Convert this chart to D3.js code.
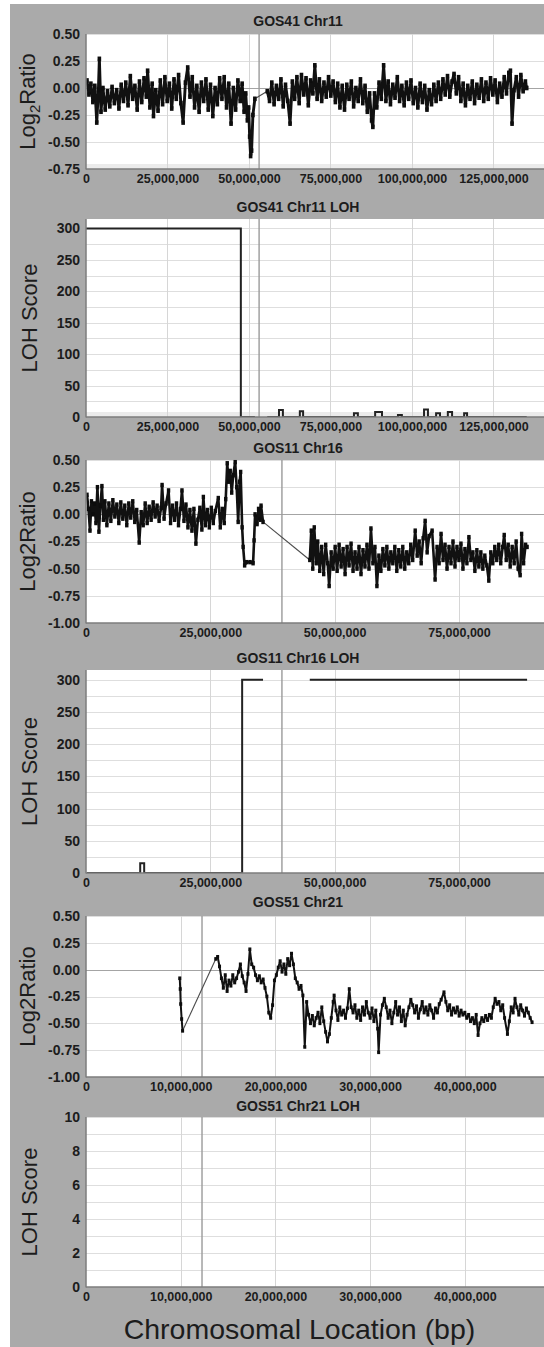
<!DOCTYPE html>
<html>
<head>
<meta charset="utf-8">
<script src="https://cdn.jsdelivr.net/npm/d3@7"></script>
<style>
  html, body { margin: 0; padding: 0; background: #ffffff; }
  svg { display: block; font-family: "Liberation Sans", Arial, Helvetica, sans-serif; }
</style>
</head>
<body>
<svg id="fig" width="544" height="1347"></svg>
<script>
// ---- Data -------------------------------------------------------------
// Log2 ratio probes: [position in Mb, log2 ratio]
const gos41Chr11Log2 = [
  [0.3,0.07],[0.9,-0.06],[1.5,0.04],[2.1,-0.13],[2.7,0.02],[3.3,-0.32],[3.8,-0.02],[4.1,0.27],[4.6,-0.22],[5.2,0.0],
  [5.9,-0.2],[6.6,-0.03],[7.3,-0.17],[8.0,0.01],[8.7,-0.14],[9.4,-0.02],[10.1,-0.19],[10.8,0.03],[11.5,-0.12],[12.2,0.05],
  [12.9,-0.16],[13.6,0.11],[14.3,-0.1],[15.0,0.02],[15.7,-0.2],[16.4,0.06],[17.1,-0.13],[17.8,0.09],[18.5,-0.08],[18.9,0.16],
  [19.6,-0.18],[20.3,0.04],[20.7,-0.26],[21.4,-0.02],[22.1,-0.21],[22.8,0.07],[23.5,-0.15],[24.2,0.1],[24.9,-0.12],[25.6,0.04],
  [26.3,-0.19],[27.0,0.08],[27.7,-0.1],[28.4,0.12],[29.1,-0.14],[29.8,-0.32],[30.5,0.05],[31.2,0.19],[31.9,-0.08],[32.6,0.1],
  [33.3,-0.18],[34.0,0.02],[34.7,-0.22],[35.4,0.05],[36.1,-0.12],[36.8,0.08],[37.5,-0.2],[38.2,0.03],[38.9,-0.26],[39.6,0.0],
  [40.3,-0.15],[41.0,0.09],[41.7,-0.1],[42.4,0.1],[43.1,-0.18],[43.8,0.04],[44.5,-0.33],[45.2,0.0],[45.9,-0.2],[46.6,0.07],
  [47.3,-0.12],[47.9,0.04],[48.5,-0.22],[49.0,-0.05],[49.5,-0.3],[49.9,-0.18],[50.2,-0.45],[50.5,-0.63],[50.8,-0.58],[51.2,-0.25],
  [51.8,-0.1],
  [55.6,-0.03],[56.3,-0.12],[57.0,0.05],[57.7,-0.15],[58.4,0.02],[59.1,-0.1],[59.8,0.08],[60.5,-0.17],[61.2,0.03],[61.9,-0.12],
  [62.6,-0.33],[63.3,0.06],[64.0,-0.1],[64.7,0.1],[65.4,-0.14],[66.1,0.12],[66.8,-0.06],[67.5,0.09],[68.2,-0.16],[68.9,0.07],
  [69.6,-0.05],[70.2,0.21],[70.9,-0.1],[71.6,0.08],[72.3,-0.12],[73.0,0.05],[73.7,-0.08],[74.4,0.1],[75.1,-0.07],[75.8,0.06],
  [76.5,-0.13],[77.2,0.04],[77.9,-0.18],[78.6,0.02],[79.3,-0.2],[80.0,0.03],[80.7,-0.1],[81.4,0.06],[82.1,-0.17],[82.8,0.0],
  [83.5,-0.12],[84.2,0.08],[84.9,-0.14],[85.6,0.02],[86.3,-0.22],[87.0,-0.05],[87.6,-0.3],[88.0,-0.36],[88.5,-0.05],[89.2,-0.18],
  [89.9,0.05],[90.6,-0.1],[91.3,0.21],[92.0,-0.12],[92.7,0.06],[93.4,-0.15],[94.1,0.03],[94.8,-0.09],[95.5,0.1],[96.2,-0.12],
  [96.9,0.02],[97.6,-0.16],[98.3,0.05],[99.0,-0.1],[99.7,0.07],[100.4,-0.14],[101.1,0.0],[101.8,-0.18],[102.5,0.04],[103.2,-0.13],
  [103.9,0.02],[104.6,-0.2],[105.3,-0.02],[106.0,-0.15],[106.7,0.03],[107.4,-0.12],[108.1,0.05],[108.8,-0.1],[109.5,0.08],[110.2,-0.06],
  [110.9,0.11],[111.6,-0.08],[112.3,0.06],[112.9,0.13],[113.6,-0.05],[114.3,0.1],[115.0,-0.12],[115.7,0.04],[116.4,-0.16],[117.1,0.02],
  [117.8,-0.1],[118.5,0.06],[119.2,-0.14],[119.9,0.03],[120.6,-0.09],[121.3,0.08],[122.0,-0.12],[122.7,0.05],[123.4,-0.1],[124.1,0.09],
  [124.8,-0.06],[125.5,0.07],[126.2,-0.13],[126.9,0.04],[127.6,-0.08],[128.3,0.1],[129.0,-0.05],[129.7,0.14],[130.2,0.16],[130.7,-0.33],
  [131.3,-0.02],[132.0,0.1],[132.7,-0.08],[133.4,0.12],[134.1,-0.03],[134.8,0.06],[135.2,0.0]
];

const gos11Chr16Log2 = [
  [0.2,0.18],[0.5,0.05],[0.8,-0.15],[1.1,0.12],[1.4,0.0],[1.7,0.1],[2.0,-0.08],[2.3,0.25],[2.6,-0.16],[2.9,0.08],
  [3.2,0.26],[3.5,-0.05],[3.8,0.12],[4.2,-0.1],[4.6,0.1],[5.0,-0.06],[5.4,0.13],[5.8,-0.02],[6.2,0.09],[6.6,-0.08],
  [7.0,0.11],[7.4,-0.04],[7.8,0.08],[8.2,-0.1],[8.6,0.1],[9.0,-0.03],[9.4,0.12],[9.8,-0.07],[10.2,0.04],[10.7,-0.26],
  [11.1,0.02],[11.5,-0.1],[11.9,0.1],[12.3,-0.08],[12.7,0.07],[13.1,-0.05],[13.5,0.11],[13.9,-0.02],[14.3,0.08],[14.7,-0.06],
  [15.1,0.06],[15.3,0.27],[15.7,-0.04],[16.1,0.1],[16.6,0.22],[17.0,-0.08],[17.4,0.08],[17.8,-0.05],[18.2,0.1],[18.6,-0.1],
  [19.0,0.05],[19.3,0.22],[19.7,-0.06],[20.1,0.09],[20.5,-0.12],[20.9,0.04],[21.3,-0.15],[21.7,0.05],[22.1,-0.27],[22.5,-0.05],
  [22.9,0.06],[23.3,-0.14],[23.6,0.16],[24.0,-0.1],[24.4,0.04],[24.8,-0.12],[25.2,0.06],[25.6,-0.08],[26.0,0.03],[26.6,0.15],
  [27.0,-0.12],[27.4,0.05],[27.8,-0.08],[28.1,0.14],[28.4,0.47],[28.7,0.3],[29.0,0.4],[29.3,0.2],[29.6,0.36],[30.0,0.48],
  [30.3,0.25],[30.6,-0.07],[30.9,0.3],[31.1,0.39],[31.4,-0.12],[31.6,-0.3],[31.9,-0.47],[32.3,-0.44],[33.0,-0.44],[33.6,-0.45],
  [33.8,-0.24],[34.0,0.0],[34.4,-0.09],[34.7,0.05],[35.0,-0.05],[35.2,0.08],[35.6,-0.07],
  [45.0,-0.42],[45.3,-0.15],[45.6,-0.5],[45.9,-0.12],[46.3,-0.45],[46.6,-0.25],[47.0,-0.52],[47.4,-0.3],[47.8,-0.55],[48.2,-0.28],
  [48.6,-0.45],[48.9,-0.66],[49.3,-0.35],[49.7,-0.5],[50.1,-0.3],[50.5,-0.52],[50.9,-0.28],[51.3,-0.48],[51.7,-0.32],[52.1,-0.55],
  [52.5,-0.3],[52.9,-0.47],[53.3,-0.27],[53.7,-0.52],[54.1,-0.35],[54.5,-0.5],[54.9,-0.3],[55.3,-0.55],[55.7,-0.33],[56.1,-0.48],
  [56.5,-0.28],[56.9,-0.5],[57.3,-0.13],[57.7,-0.45],[58.1,-0.3],[58.5,-0.66],[58.9,-0.38],[59.3,-0.52],[59.7,-0.32],[60.1,-0.47],
  [60.5,-0.3],[60.9,-0.5],[61.3,-0.35],[61.7,-0.45],[62.1,-0.3],[62.5,-0.52],[62.9,-0.33],[63.3,-0.48],[63.7,-0.3],[64.1,-0.5],
  [64.5,-0.35],[64.9,-0.45],[65.3,-0.28],[65.7,-0.42],[66.2,-0.15],[66.6,-0.38],[67.0,-0.25],[67.4,-0.45],[67.8,-0.22],[68.2,-0.06],
  [68.6,-0.35],[69.0,-0.2],[69.6,-0.15],[70.2,-0.6],[70.6,-0.3],[71.0,-0.45],[71.4,-0.18],[71.8,-0.42],[72.2,-0.28],[72.6,-0.5],
  [73.0,-0.3],[73.4,-0.45],[73.8,-0.25],[74.2,-0.48],[74.6,-0.3],[75.0,-0.42],[75.4,-0.27],[75.8,-0.5],[76.2,-0.32],[76.6,-0.45],
  [77.0,-0.21],[77.4,-0.42],[77.8,-0.35],[78.2,-0.52],[78.6,-0.33],[79.0,-0.48],[79.4,-0.35],[79.8,-0.5],[80.2,-0.38],[80.6,-0.47],
  [81.0,-0.61],[81.4,-0.35],[81.8,-0.45],[82.2,-0.3],[82.6,-0.42],[83.0,-0.28],[83.4,-0.45],[83.8,-0.3],[84.1,-0.19],[84.5,-0.42],
  [84.9,-0.28],[85.3,-0.48],[85.7,-0.3],[86.1,-0.45],[86.5,-0.25],[86.9,-0.5],[87.3,-0.56],[87.6,-0.18],[88.0,-0.45],[88.4,-0.28],
  [88.7,-0.3]
];

const gos51Chr21Log2 = [
  [9.9,-0.08],[9.95,-0.18],[10.0,-0.32],[10.1,-0.46],[10.2,-0.57],
  [13.7,0.1],[13.9,0.12],[14.1,0.03],[14.3,-0.08],[14.5,-0.17],[14.7,-0.05],[14.9,-0.2],[15.1,-0.1],[15.3,-0.15],[15.5,-0.05],
  [15.7,-0.12],[15.9,-0.08],[16.1,-0.02],[16.3,0.05],[16.5,-0.06],[16.7,-0.12],[16.9,-0.2],[17.1,-0.04],[17.3,0.19],[17.5,0.05],
  [17.7,0.02],[17.9,-0.05],[18.1,-0.1],[18.3,-0.06],[18.5,-0.12],[18.7,-0.09],[18.9,-0.17],[19.1,-0.25],[19.3,-0.4],[19.5,-0.45],
  [19.7,-0.33],[19.9,-0.1],[20.1,-0.05],[20.3,0.02],[20.5,0.08],[20.7,-0.02],[20.9,0.05],[21.1,-0.04],[21.3,0.1],[21.5,0.04],
  [21.7,0.15],[21.9,0.05],[22.1,-0.08],[22.3,-0.12],[22.5,-0.18],[22.7,-0.15],[22.9,-0.24],[23.1,-0.72],[23.3,-0.3],[23.5,-0.42],
  [23.7,-0.5],[23.9,-0.43],[24.1,-0.52],[24.3,-0.45],[24.5,-0.4],[24.7,-0.5],[24.9,-0.35],[25.1,-0.48],[25.3,-0.58],[25.5,-0.67],
  [25.7,-0.6],[25.9,-0.45],[26.1,-0.3],[26.2,-0.24],[26.4,-0.38],[26.6,-0.47],[26.8,-0.35],[27.0,-0.42],[27.2,-0.38],[27.4,-0.45],
  [27.6,-0.36],[27.8,-0.18],[28.0,-0.35],[28.2,-0.4],[28.4,-0.33],[28.6,-0.45],[28.8,-0.38],[29.0,-0.47],[29.2,-0.35],[29.4,-0.42],
  [29.6,-0.3],[29.8,-0.4],[30.0,-0.45],[30.2,-0.36],[30.4,-0.48],[30.6,-0.38],[30.8,-0.55],[30.9,-0.77],[31.1,-0.42],[31.3,-0.33],
  [31.5,-0.27],[31.7,-0.35],[31.9,-0.45],[32.1,-0.38],[32.3,-0.5],[32.5,-0.4],[32.7,-0.3],[32.9,-0.42],[33.1,-0.35],[33.3,-0.48],
  [33.5,-0.38],[33.7,-0.52],[33.9,-0.42],[34.1,-0.35],[34.3,-0.28],[34.5,-0.33],[34.7,-0.4],[34.9,-0.34],[35.1,-0.45],[35.3,-0.37],
  [35.5,-0.3],[35.7,-0.4],[35.9,-0.35],[36.1,-0.42],[36.3,-0.33],[36.5,-0.38],[36.7,-0.45],[36.9,-0.36],[37.1,-0.4],[37.3,-0.32],
  [37.5,-0.28],[37.8,-0.21],[38.0,-0.3],[38.2,-0.38],[38.4,-0.33],[38.6,-0.42],[38.8,-0.36],[39.0,-0.4],[39.2,-0.35],[39.4,-0.43],
  [39.6,-0.38],[39.8,-0.42],[40.0,-0.4],[40.2,-0.45],[40.4,-0.42],[40.6,-0.48],[40.8,-0.45],[41.0,-0.5],[41.2,-0.42],[41.4,-0.61],
  [41.6,-0.5],[41.8,-0.45],[42.0,-0.48],[42.2,-0.43],[42.4,-0.47],[42.6,-0.42],[42.8,-0.45],[43.0,-0.35],[43.2,-0.27],[43.4,-0.32],
  [43.6,-0.3],[43.8,-0.38],[44.0,-0.33],[44.2,-0.45],[44.5,-0.6],[44.7,-0.48],[44.9,-0.35],[45.1,-0.4],[45.3,-0.27],[45.5,-0.35],
  [45.7,-0.42],[45.9,-0.33],[46.1,-0.38],[46.3,-0.43],[46.5,-0.36],[46.7,-0.4],[46.9,-0.45],[47.1,-0.49]
];

// LOH score traces: [position in Mb, score]; null marks a gap with no probes
const gos41Chr11Loh = [
  [0,300],[47.5,300],[47.5,0],[51.8,0],null,
  [55.6,0],[59.2,0],[59.2,11],[60.4,11],[60.4,0],[65.6,0],[65.6,9],[66.6,9],[66.6,0],
  [82.2,0],[82.2,6],[83.4,6],[83.4,0],[88.7,0],[88.7,8],[90.8,8],[90.8,0],
  [95.7,0],[95.7,3],[96.9,3],[96.9,0],[103.7,0],[103.7,12],[104.9,12],[104.9,0],
  [107.4,0],[107.4,6],[108.6,6],[108.6,0],[111.0,0],[111.0,8],[112.3,8],[112.3,0],
  [116.0,0],[116.0,6],[116.9,6],[116.9,0],[135.2,0]
];
const gos11Chr16Loh = [
  [0.2,0],[10.9,0],[10.9,15],[11.7,15],[11.7,0],[31.4,0],[31.4,300],[35.6,300],null,
  [45.0,300],[88.7,300]
];
const gos51Chr21Loh = [];

// Centromere positions (Mb)
const centromereMb = [53.1, 39.4, 12.25];

// Axis ticks
const chr11Ticks = [0, 25000000, 50000000, 75000000, 100000000, 125000000];
const chr16Ticks = [0, 25000000, 50000000, 75000000];
const chr21Ticks = [0, 10000000, 20000000, 30000000, 40000000];
const log2TicksShort = [0.5, 0.25, 0, -0.25, -0.5, -0.75];
const log2TicksLong = [0.5, 0.25, 0, -0.25, -0.5, -0.75, -1.0];
const loh300Ticks = [0, 50, 100, 150, 200, 250, 300];
const loh10Ticks = [0, 2, 4, 6, 8, 10];

const panelTitles = ["GOS41 Chr11", "GOS41 Chr11 LOH", "GOS11 Chr16", "GOS11 Chr16 LOH", "GOS51 Chr21", "GOS51 Chr21 LOH"];
const xAxisTitle = "Chromosomal Location (bp)";

// ---- Layout -------------------------------------------------------------
const W = 544, H = 1347;
const plotLeft = 86, plotRight = 544, titleX = 298;
const MB = 1e6;
const gapMb = 2; // probe spacing above this is drawn as a thin connector

const panels = [
  { title: panelTitles[0], type: "log2", data: gos41Chr11Log2, xMax: 140.5 * MB, xTicks: chr11Ticks, cen: centromereMb[0],
    top: 34, bottom: 169, yDomain: [-0.75, 0.5], yTicks: log2TicksShort, titleY: 25.5, ylab: "sub", strip: true,
    weight: 2.9, mark: [3.6, 4.6] },
  { title: panelTitles[1], type: "loh", data: gos41Chr11Loh, xMax: 140.5 * MB, xTicks: chr11Ticks, cen: centromereMb[0],
    top: 219, bottom: 417, yDomain: [0, 315], yTicks: loh300Ticks, grid: 25, titleY: 211.5, strip: true },
  { title: panelTitles[2], type: "log2", data: gos11Chr16Log2, xMax: 92.1 * MB, xTicks: chr16Ticks, cen: centromereMb[1],
    top: 460, bottom: 623, yDomain: [-1, 0.5], yTicks: log2TicksLong, titleY: 452.5, ylab: "plain",
    weight: 2.6, mark: [3.4, 4.4] },
  { title: panelTitles[3], type: "loh", data: gos11Chr16Loh, xMax: 92.1 * MB, xTicks: chr16Ticks, cen: centromereMb[1],
    top: 670, bottom: 873, yDomain: [0, 315], yTicks: loh300Ticks, grid: 25, titleY: 663 },
  { title: panelTitles[4], type: "log2", data: gos51Chr21Log2, xMax: 48.36 * MB, xTicks: chr21Ticks, cen: centromereMb[2],
    top: 916, bottom: 1077, yDomain: [-1, 0.5], yTicks: log2TicksLong, titleY: 906.5, ylab: "plain",
    weight: 2.0, mark: [3.0, 3.6] },
  { title: panelTitles[5], type: "loh", data: gos51Chr21Loh, xMax: 48.36 * MB, xTicks: chr21Ticks, cen: centromereMb[2],
    top: 1117, bottom: 1287, yDomain: [0, 10], yTicks: loh10Ticks, grid: 1, titleY: 1110.5 }
];

const svg = d3.select("#fig");
const defs = svg.append("defs");

// gray figure background
svg.append("rect").attr("x", 10).attr("y", 4).attr("width", W - 10).attr("height", H - 4).attr("fill", "#aaaaaa");

const textColor = "#1c1c1c";

panels.forEach((p, i) => {
  const x = d3.scaleLinear().domain([0, p.xMax]).range([plotLeft, plotRight]);
  const y = d3.scaleLinear().domain(p.yDomain).range([p.bottom, p.top]);
  const g = svg.append("g");

  defs.append("clipPath").attr("id", "clip" + i)
    .append("rect").attr("x", plotLeft).attr("y", p.top - 2).attr("width", plotRight - plotLeft).attr("height", p.bottom - p.top + 2);

  // plot background
  g.append("rect").attr("x", plotLeft).attr("y", p.top).attr("width", plotRight - plotLeft).attr("height", p.bottom - p.top)
    .attr("fill", "#ffffff");
  if (p.strip) {
    g.append("rect").attr("x", plotLeft).attr("y", p.bottom - 5).attr("width", plotRight - plotLeft).attr("height", 5)
      .attr("fill", "#ebebeb");
  }

  // horizontal grid
  let hGrid;
  if (p.type === "loh") {
    hGrid = d3.range(p.yDomain[0] + p.grid, p.yDomain[1] + 0.001, p.grid);
  } else {
    hGrid = p.yTicks.filter(v => v > p.yDomain[0] && v !== 0);
  }
  g.append("g").selectAll("line").data(hGrid).join("line")
    .attr("x1", plotLeft).attr("x2", plotRight)
    .attr("y1", d => Math.round(y(d)) + 0.5).attr("y2", d => Math.round(y(d)) + 0.5)
    .attr("stroke", "#dedede").attr("stroke-width", 1);

  // vertical grid at x ticks
  g.append("g").selectAll("line").data(p.xTicks.filter(t => t > 0)).join("line")
    .attr("x1", d => Math.round(x(d)) + 0.5).attr("x2", d => Math.round(x(d)) + 0.5)
    .attr("y1", p.top).attr("y2", p.bottom)
    .attr("stroke", "#d6d6d6").attr("stroke-width", 1);

  // zero line for log2 ratio panels
  if (p.type === "log2") {
    g.append("line").attr("x1", plotLeft).attr("x2", plotRight)
      .attr("y1", Math.round(y(0)) + 0.5).attr("y2", Math.round(y(0)) + 0.5)
      .attr("stroke", "#a4a4a4").attr("stroke-width", 1.2);
  }

  // centromere marker
  g.append("line")
    .attr("x1", x(p.cen * MB)).attr("x2", x(p.cen * MB))
    .attr("y1", p.top).attr("y2", p.bottom)
    .attr("stroke", "#9a9a9a").attr("stroke-width", 1.4);

  // data
  const dg = g.append("g").attr("clip-path", "url(#clip" + i + ")");
  if (p.type === "log2") {
    // split the probe list into runs wherever a large gap occurs
    const runs = [];
    const connectors = [];
    p.data.forEach((d, k) => {
      if (k === 0 || d[0] - p.data[k - 1][0] > gapMb) {
        if (k > 0) connectors.push([p.data[k - 1], d]);
        runs.push([]);
      }
      runs[runs.length - 1].push(d);
    });
    const line = d3.line().x(d => x(d[0] * MB)).y(d => y(d[1]));
    dg.append("g").selectAll("path").data(connectors).join("path").attr("d", line)
      .attr("fill", "none").attr("stroke", "#4a4a4a").attr("stroke-width", 1.1);
    dg.append("g").selectAll("path").data(runs).join("path").attr("d", line)
      .attr("fill", "none").attr("stroke", "#111111").attr("stroke-width", p.weight)
      .attr("stroke-linejoin", "round");
    const [mw, mh] = p.mark;
    dg.append("g").selectAll("rect").data(p.data).join("rect")
      .attr("x", d => x(d[0] * MB) - mw / 2).attr("y", d => y(d[1]) - mh / 2)
      .attr("width", mw).attr("height", mh)
      .attr("fill", "#0d0d0d");
  } else if (p.data.length) {
    const line = d3.line().defined(d => d !== null).x(d => x(d[0] * MB)).y(d => y(d[1]));
    dg.append("path").datum(p.data).attr("d", line)
      .attr("fill", "none").attr("stroke", "#222222").attr("stroke-width", 2);
  }

  // axis lines
  g.append("line").attr("x1", plotLeft).attr("x2", plotLeft).attr("y1", p.top).attr("y2", p.bottom + 0.5)
    .attr("stroke", "#7d7d7d").attr("stroke-width", 1.5);
  g.append("line").attr("x1", plotLeft).attr("x2", plotRight).attr("y1", p.bottom).attr("y2", p.bottom)
    .attr("stroke", "#7d7d7d").attr("stroke-width", 1.5);

  // y tick labels
  const yFmt = p.type === "log2" ? (d => d.toFixed(2)) : (d => String(d));
  const yAxis = d3.axisLeft(y).tickValues(p.yTicks).tickFormat(yFmt).tickSize(0).tickPadding(6);
  const ya = g.append("g").attr("transform", `translate(${plotLeft},0)`).call(yAxis);
  ya.select(".domain").remove();
  ya.selectAll("text").attr("font-size", 14).attr("font-weight", "bold").attr("fill", textColor)
    .attr("font-family", "'Liberation Sans', Arial, sans-serif");

  // x tick labels
  const xAxis = d3.axisBottom(x).tickValues(p.xTicks).tickFormat(d3.format(",")).tickSize(0).tickPadding(5);
  const xa = g.append("g").attr("transform", `translate(0,${p.bottom})`).call(xAxis);
  xa.select(".domain").remove();
  xa.selectAll("text").attr("font-size", 12.5).attr("font-weight", "bold").attr("fill", textColor)
    .attr("font-family", "'Liberation Sans', Arial, sans-serif");

  // panel title
  g.append("text").attr("x", titleX).attr("y", p.titleY).attr("text-anchor", "middle")
    .attr("font-size", 14).attr("font-weight", "bold").attr("fill", textColor).text(p.title);

  // y axis title
  const yc = (p.top + p.bottom) / 2;
  const yt = g.append("text").attr("transform", `translate(${p.type === "loh" ? 37 : 35},${yc}) rotate(-90)`)
    .attr("text-anchor", "middle").attr("font-size", 22).attr("fill", textColor);
  if (p.type === "loh") {
    yt.text("LOH Score");
  } else if (p.ylab === "sub") {
    yt.append("tspan").text("Log");
    yt.append("tspan").attr("font-size", 15).attr("dy", 5).text("2");
    yt.append("tspan").attr("dy", -5).text("Ratio");
  } else {
    yt.text("Log2Ratio");
  }
});

// shared x axis title
svg.append("text").attr("x", 299.5).attr("y", 1339).attr("text-anchor", "middle")
  .attr("font-size", 28.5).attr("fill", textColor).text(xAxisTitle);
</script>
</body>
</html>
